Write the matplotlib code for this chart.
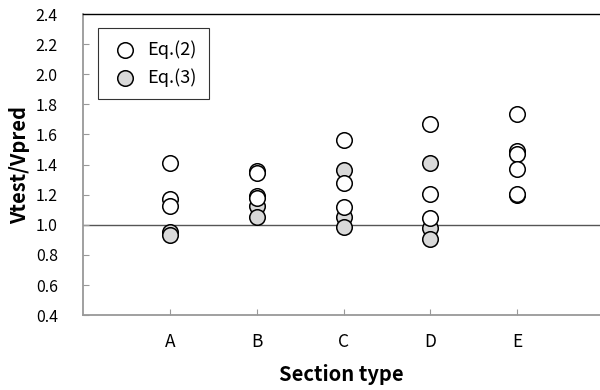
import numpy as np
import matplotlib.pyplot as plt

plt.rcParams['font.family'] = ['Noto Sans CJK KR', 'DejaVu Sans']

sections = ['A', 'B', 'C', 'D', 'E']

# Vtest/Vpred, one list per section
eq2_values = [
    [1.41, 1.17, 1.125],
    [1.355, 1.345, 1.19, 1.18],
    [1.565, 1.28, 1.12],
    [1.67, 1.205, 1.045],
    [1.735, 1.487, 1.47, 1.372, 1.205],
]
eq3_values = [
    [0.955, 0.935],
    [1.127, 1.05],
    [1.365, 1.053, 0.983],
    [1.413, 0.982, 0.905],
    [1.195],
]

yticks = np.arange(0.4, 2.41, 0.2)


def main():
    fig = plt.figure(figsize=(6, 3.9), dpi=100)
    ax = fig.add_axes([0.138, 0.192, 0.862, 0.772])

    x_eq2 = []
    y_eq2 = []
    x_eq3 = []
    y_eq3 = []
    for i, name in enumerate(sections):
        x_eq2 += [i + 1] * len(eq2_values[i])
        y_eq2 += eq2_values[i]
        x_eq3 += [i + 1] * len(eq3_values[i])
        y_eq3 += eq3_values[i]

    ax.axhline(1.0, color='#555555', lw=1.0, zorder=1)

    # gray series first so the open circles sit on top, as in the original
    h3 = ax.scatter(x_eq3, y_eq3, s=125, facecolor='#d9d9d9', edgecolor='black',
                    linewidth=1.1, zorder=3, label='Eq.(3)')
    h2 = ax.scatter(x_eq2, y_eq2, s=125, facecolor='white', edgecolor='black',
                    linewidth=1.1, zorder=4, label='Eq.(2)')

    ax.set_xlim(0, 5.95)
    ax.set_ylim(0.4, 2.4)
    ax.set_xticks(range(1, len(sections) + 1))
    ax.set_xticklabels(sections)
    ax.set_yticks(yticks)
    ax.set_yticklabels([f'{v:.1f}' for v in yticks])

    ax.tick_params(axis='both', direction='in', length=4, color='#999999',
                   labelcolor='black')
    ax.tick_params(axis='y', pad=18, labelsize=11.5)
    ax.tick_params(axis='x', pad=13, labelsize=12.5)

    for side in ['left', 'bottom']:
        ax.spines[side].set_color('#999999')
        ax.spines[side].set_linewidth(1.3)
    ax.spines['top'].set_color('black')
    ax.spines['top'].set_linewidth(1.0)
    ax.spines['right'].set_visible(False)

    ax.set_xlabel('Section type', fontsize=14.5, fontweight='bold', labelpad=9)
    ax.set_ylabel('Vtest/Vpred', fontsize=14.5, fontweight='bold', labelpad=4)

    leg = ax.legend(handles=[h2, h3], loc='upper left', bbox_to_anchor=(0.012, 0.985),
                    fontsize=13, frameon=True, fancybox=False, borderpad=0.7,
                    handletextpad=0.4, handlelength=1.6, labelspacing=0.5,
                    markerscale=1.0)
    leg.get_frame().set_edgecolor('black')
    leg.get_frame().set_linewidth(0.8)

    fig.savefig('out.png', dpi=100)


if __name__ == "__main__":
    main()
